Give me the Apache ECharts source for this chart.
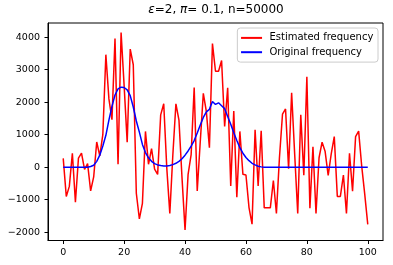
<!DOCTYPE html>
<html><head><meta charset="utf-8">
<script src="https://cdn.jsdelivr.net/npm/echarts@6/dist/echarts.min.js"></script>
<style>html,body{margin:0;padding:0;background:#fff}#c{width:393px;height:265px}</style>
</head><body><div id="c"></div>
<script>
const seriesNames = ['Estimated frequency', 'Original frequency'];
const xTicks = [0, 20, 40, 60, 80, 100];
const yTicks = [-2000, -1000, 0, 1000, 2000, 3000, 4000];
// values at x = 0..100
const estimated = [
  270, -900, -590, 430, -1080, 280, 430, -70, 110, -730,
  -300, 775, 350, 1000, 3460, 2100, 1460, 3960, 90, 4140,
  2500, 770, 3630, 3150, -800, -1590, -1110, 1100, 90, 570,
  -60, -220, 1610, 1950, -20, -1420, 390, 1950, 1450, -320,
  -1930, -220, 390, 2450, -730, 790, 2270, 1710, 600, 3800,
  2950, 2950, 3280, 1250, 2440, -580, 1730, -920, 1100, -220,
  -240, -1240, -1750, 1150, -580, 1120, -1250, -1250, -1250, -410,
  -1420, 300, 1630, 1790, -50, 2290, 400, -1420, 1610, -250,
  2780, -1260, 630, -1420, 290, 770, 480, -250, 410, 940,
  -900, -900, -240, -1420, 430, -740, 940, 1110, 40, -830,
  -1760
];
const original = [
  0, 0, 0, 0, 0, 0, 0, 0, 0, 20,
  60, 180, 370, 650, 980, 1450, 1870, 2220, 2410, 2460,
  2450, 2380, 2200, 1850, 1420, 1080, 700, 450, 290, 180,
  110, 70, 50, 40, 40, 50, 80, 120, 180, 260,
  370, 500, 650, 820, 1050, 1300, 1530, 1700, 1780, 2020,
  1930, 1980, 1890, 1800, 1560, 1320, 1060, 820, 600, 430,
  300, 200, 120, 70, 30, 10, 0, 0, 0, 0,
  0, 0, 0, 0, 0, 0, 0, 0, 0, 0,
  0, 0, 0, 0, 0, 0, 0, 0, 0, 0,
  0, 0, 0, 0, 0, 0, 0, 0, 0, 0,
  0
];

const font = 'DejaVu Sans';
const chart = echarts.init(document.getElementById('c'), null, {renderer: 'canvas'});
chart.setOption({
  animation: false,
  backgroundColor: '#fff',
  title: {
    text: '{i|ε}=2, {i|π}= 0.1, n=50000',
    left: 216, top: 4, textAlign: 'center', padding: 0,
    textStyle: {
      fontFamily: font, fontSize: 12, fontWeight: 'normal', color: '#000',
      rich: { i: { fontFamily: font, fontSize: 12, fontStyle: 'italic', color: '#000' } }
    }
  },
  legend: {
    orient: 'vertical', right: 15, top: 28,
    data: seriesNames,
    icon: 'rect',
    itemWidth: 21, itemHeight: 2, itemGap: 2.3,
    padding: [3.9, 4.7, 3.9, 3.7],
    backgroundColor: 'rgba(255,255,255,0.8)',
    borderColor: '#cccccc', borderWidth: 1, borderRadius: 3,
    textStyle: { fontFamily: font, fontSize: 10, lineHeight: 12, color: '#000', padding: [0, 0, 0, 2.4] }
  },
  grid: {
    left: 48, top: 23, right: 10, bottom: 24.5,
    show: true, borderColor: '#000', borderWidth: 1, backgroundColor: 'transparent',
    outerBoundsMode: 'none'
  },
  xAxis: {
    type: 'value', min: -5, max: 105,
    splitLine: { show: false },
    axisLine: { show: true, onZero: false, lineStyle: { color: '#000', width: 1 } },
    axisTick: { show: true, length: 3.5, lineStyle: { color: '#000' }, customValues: xTicks },
    axisLabel: { fontFamily: font, fontSize: 9.5, color: '#000', margin: 7, customValues: xTicks }
  },
  yAxis: {
    type: 'value', min: -2254, max: 4434,
    splitLine: { show: false },
    axisLine: { show: true, onZero: false, lineStyle: { color: '#000', width: 1 } },
    axisTick: { show: true, length: 3.5, lineStyle: { color: '#000' }, customValues: yTicks },
    axisLabel: {
      fontFamily: font, fontSize: 9.5, color: '#000', margin: 8, customValues: yTicks,
      formatter: v => String(v).replace('-', '\u2212')
    }
  },
  series: [
    {
      name: seriesNames[0], type: 'line', symbol: 'none',
      data: estimated.map((v, i) => [i, v]),
      lineStyle: { color: '#ff0000', width: 1.5 }, itemStyle: { color: '#ff0000' }, z: 2
    },
    {
      name: seriesNames[1], type: 'line', symbol: 'none',
      data: original.map((v, i) => [i, v]),
      lineStyle: { color: '#0000ff', width: 1.5 }, itemStyle: { color: '#0000ff' }, z: 3
    }
  ]
});
</script></body></html>
